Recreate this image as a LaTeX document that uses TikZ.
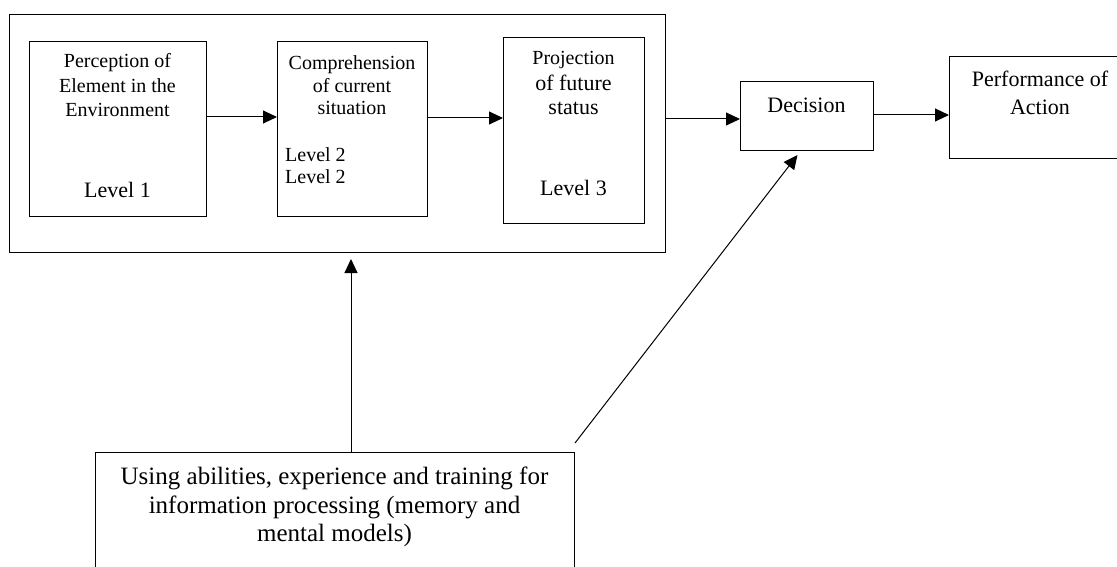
\documentclass[tikz,border=0pt]{standalone}
\usepackage{fontspec}
\setmainfont{Liberation Serif}
\usetikzlibrary{arrows.meta}
\begin{document}
\begin{tikzpicture}[x=1pt,y=-1pt,
  box/.style={draw, line width=1pt, rectangle, inner sep=0pt, anchor=north west},
  txt/.style={inner sep=0pt, anchor=base, font=\fontsize{20}{23}\selectfont},
  bigtxt/.style={inner sep=0pt, anchor=base, font=\fontsize{22}{25}\selectfont},
  hugetxt/.style={inner sep=0pt, anchor=base, font=\fontsize{25}{28}\selectfont},
  arr/.style={-{Triangle[length=14pt,width=13pt]}, line width=1pt}]
\useasboundingbox (0,0) rectangle (1117,567);
\clip (0,0) rectangle (1117,567);
% boxes
\node[box, minimum width=656pt, minimum height=238pt] (outer) at (9,14) {};
\node[box, minimum width=177pt, minimum height=175pt] (perc) at (29,41) {};
\node[box, minimum width=150pt, minimum height=175pt] (comp) at (277,41) {};
\node[box, minimum width=141pt, minimum height=186pt] (proj) at (503,37) {};
\node[box, minimum width=133pt, minimum height=69pt] (dec) at (740,81) {};
\node[box, minimum width=182pt, minimum height=102pt] (perf) at (949,56) {};
\node[box, minimum width=479pt, minimum height=150pt] (using) at (95,452) {};
% texts
\node[txt] (p1) at (117.5,68) {Perception of};
\node[txt] (p2) at (117.5,93) {Element in the};
\node[txt] (p3) at (117.5,117) {Environment};
\node[bigtxt] (p4) at (117.5,197) {Level 1};
\node[txt] (c1) at (352,70) {Comprehension};
\node[txt] (c2) at (352,93) {of current};
\node[txt] (c3) at (352,115) {situation};
\node[txt, anchor=base west] (c4) at (285,162) {Level 2};
\node[txt, anchor=base west] (c5) at (285,183) {Level 2};
\node[txt] (j1) at (573.5,65) {Projection};
\node[bigtxt] (j2) at (573.5,91) {of future};
\node[bigtxt] (j3) at (573.5,115) {status};
\node[bigtxt] (j4) at (573.5,196) {Level 3};
\node[bigtxt] (d1) at (806.5,113) {Decision};
\node[bigtxt] (f1) at (1040,87) {Performance of};
\node[bigtxt] (f2) at (1040,115) {Action};
\node[hugetxt] (u1) at (334.5,484.5) {Using abilities, experience and training for};
\node[hugetxt] (u2) at (334.5,513) {information processing (memory and};
\node[hugetxt] (u3) at (334.5,541) {mental models)};
% connectors
\draw[arr] (perc.east |- 0,117) -- (comp.west |- 0,117);
\draw[arr] (comp.east |- 0,118) -- (proj.west |- 0,118);
\draw[arr] (outer.east |- 0,119) -- (dec.west |- 0,119);
\draw[arr] (dec.east |- 0,115) -- (perf.west |- 0,115);
\coordinate (vt) at (351,259);
\draw[arr] (using.north -| vt) -- (vt);
\draw[arr] ([yshift=9pt]using.north east) -- ([xshift=-9.5pt,yshift=-4pt]dec.south);
\end{tikzpicture}
\end{document}
